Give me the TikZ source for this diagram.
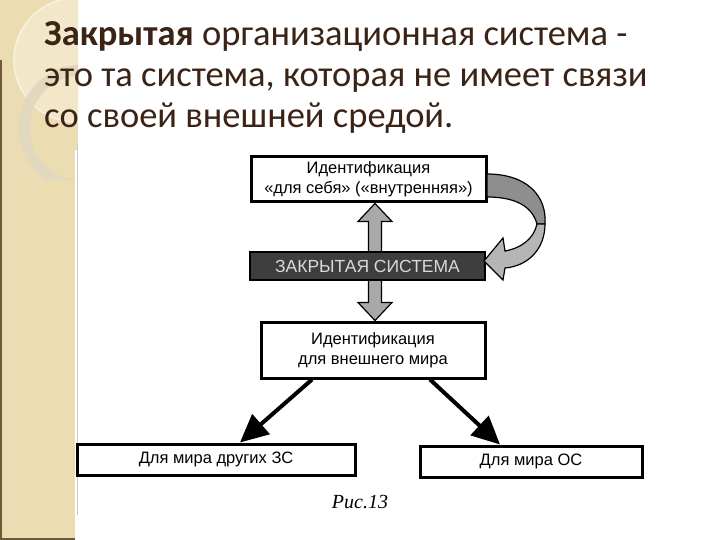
\documentclass[tikz,border=0pt]{standalone}
\usepackage{fontspec}
\setmainfont{Liberation Sans}
\newfontfamily\titlefont{Carlito}
\newfontfamily\capfont{Liberation Serif}
\usetikzlibrary{arrows.meta,calc}
\definecolor{SlideBeige}{HTML}{ECDCB2}
\definecolor{SlideEdge}{HTML}{6E5A3A}
\definecolor{RingGray}{HTML}{E2D8BF}
\definecolor{TitleBrown}{HTML}{3B2316}
\definecolor{ClosedFill}{HTML}{3E3E3E}
\definecolor{ArrowGray}{HTML}{A9A9A9}
\definecolor{RibbonDark}{HTML}{8E8E8E}
\definecolor{RibbonLight}{HTML}{B5B5B5}
\tikzset{
    % Base box style
    basebox/.style={
        draw=black,
        fill=white,
        line width=3pt,
        align=center,
        inner sep=0pt,
        font=\fontsize{16.5}{20}\selectfont
    },
    % Identification boxes
    idbox/.style={
        basebox,
        minimum width=235pt,
        minimum height=45pt
    },
    % Closed system bar
    closedbox/.style={
        basebox,
        fill=ClosedFill,
        line width=1.5pt,
        text=white!85!black,
        minimum width=235pt,
        minimum height=28pt,
        font=\fontsize{17.5}{20}\selectfont
    },
    % Bottom boxes
    targetbox/.style={
        basebox,
        minimum height=31pt
    },
    % Gray block arrows
    blockarrow/.style={
        fill=ArrowGray,
        draw=black,
        line width=1.2pt,
        line join=miter
    },
    ribbondark/.style={blockarrow, fill=RibbonDark},
    ribbonlight/.style={blockarrow, fill=RibbonLight},
    % Thick black arrows
    bigarrow/.style={
        -{Triangle[length=28pt,width=26pt]},
        line width=4pt,
        draw=black
    },
    % Slide title
    titletext/.style={
        align=left,
        inner sep=0pt,
        text=TitleBrown,
        font=\titlefont\fontsize{36.5}{41}\selectfont
    },
    % Figure caption
    captext/.style={
        inner sep=0pt,
        font=\capfont\itshape\fontsize{20}{22}\selectfont
    }
}
\begin{document}
\begin{tikzpicture}[x=1pt, y=-1pt]
    % Slide background
    \fill[white] (0,0) rectangle (720,540);
    \useasboundingbox (0,0) rectangle (720,540);
    \fill[SlideBeige] (0,0) rectangle (78,150);
    \fill[SlideBeige] (0,150) rectangle (75,540);
    \begin{scope}
        \clip (0,0) rectangle (78,180);
        \fill[white!30!SlideBeige] (76,60) circle (62);
        \draw[white!60!SlideBeige, line width=1.5pt] (76,60) circle (62);
        \draw[RingGray, line width=11pt] (82,128) circle (58);
    \end{scope}
    \draw[SlideEdge, line width=2pt] (1,60) -- (1,539) -- (75,539);
    \draw[black!20, line width=1pt] (77,143) -- (77,515);

    % Title
    \node[titletext, anchor=north west] (title) at (44,21) {\textbf{Закрытая} организационная система -\\это та система, которая не имеет связи\\со своей внешней средой.};

    % Boxes
    \node[idbox] (idself) at (368.5,179.5) {Идентификация\\«для себя» («внутренняя»)};
    \node[idbox, minimum width=224pt, minimum height=56pt] (idworld) at (373,350) {Идентификация\\для внешнего мира};
    \node[targetbox, minimum width=278pt] (otherzs) at (216,459.5) {Для мира других ЗС};
    \node[targetbox, minimum width=222pt] (worldos) at (531,461.5) {Для мира ОС};

    % Double block arrow
    \coordinate (dtop) at ([xshift=6.5pt]idself.south);
    \coordinate (dbot) at ([xshift=2pt]idworld.north);
    \draw[blockarrow] (dtop) -- ($(dtop)+(17,18)$) -- ($(dtop)+(6.5,18)$) -- ($(dbot)+(6.5,-18)$) -- ($(dbot)+(17,-18)$) -- (dbot) -- ($(dbot)+(-17,-18)$) -- ($(dbot)+(-6.5,-18)$) -- ($(dtop)+(-6.5,18)$) -- ($(dtop)+(-17,18)$) -- cycle;

    % Closed system (over the arrow shaft)
    \node[closedbox] (closed) at (367.5,266) {ЗАКРЫТАЯ СИСТЕМА};

    % Curved ribbon arrow
    \draw[ribbondark] (487,174) .. controls (527,174) and (547,196) .. (545,224) -- (537,224) .. controls (532,206) and (515,197) .. (487,197) -- cycle;
    \draw[ribbonlight] (545,224) .. controls (545,248) and (529,266) .. (505,268) -- (503,280) -- (484,261) -- (503,238) -- (505,251) .. controls (522,248) and (534,238) .. (537,224) -- cycle;

    % Thick arrows
    \draw[bigarrow] ([xshift=-61pt]idworld.south) -- ([xshift=24pt]otherzs.north);
    \draw[bigarrow] ([xshift=57pt]idworld.south) -- ([xshift=-31pt]worldos.north);

    % Caption
    \node[captext] (fig) at (360,502) {Рис.13};
\end{tikzpicture}
\end{document}
